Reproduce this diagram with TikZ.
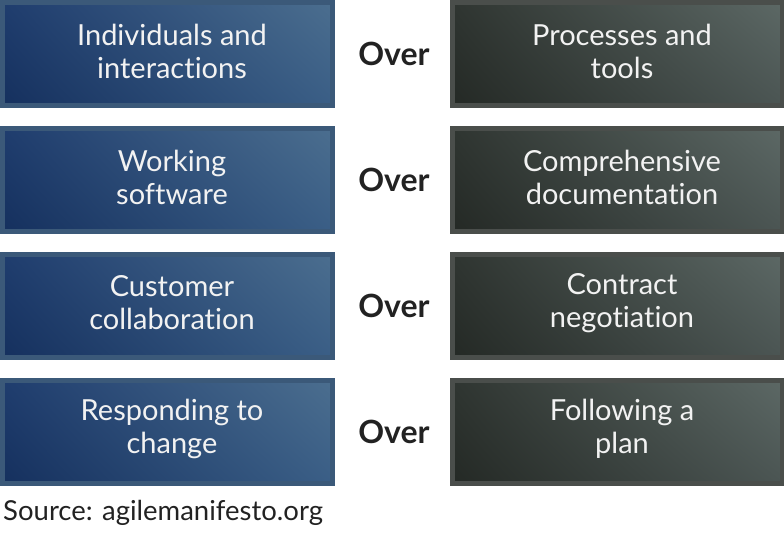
\documentclass[tikz,border=0pt]{standalone}
\usepackage{fontspec}
\setmainfont{Lato}[Ligatures = NoCommon]
\usetikzlibrary{positioning, shadings}

\definecolor{azulborda}{HTML}{3B5979}
\definecolor{azulescuro}{HTML}{15305E}
\definecolor{azulmeioa}{HTML}{1F3D6E}
\definecolor{azulmeiob}{HTML}{3A5E86}
\definecolor{azulclaro}{HTML}{4B6E8F}
\definecolor{cinzaborda}{HTML}{4A4E4B}
\definecolor{cinzaescuro}{HTML}{242925}
\definecolor{cinzameioa}{HTML}{2F3531}
\definecolor{cinzameiob}{HTML}{4B5553}
\definecolor{cinzaclaro}{HTML}{5C6865}
\definecolor{textoclaro}{HTML}{F2F2F2}
\definecolor{textoescuro}{HTML}{222222}

\begin{document}
\begin{tikzpicture}[x = 1pt, y = -1pt,
	caixa/.style = {line width = 5pt, minimum width = 330pt, minimum height = 103pt, inner sep = 0pt},
	valor/.style = {caixa, draw = azulborda, lower left = azulescuro, upper right = azulclaro, upper left = azulmeioa, lower right = azulmeiob},
	contra/.style = {caixa, draw = cinzaborda, lower left = cinzaescuro, upper right = cinzaclaro, upper left = cinzameioa, lower right = cinzameiob},
	rotulo/.style = {align = center, text = textoclaro, font = \fontsize{29}{33}\selectfont, xshift = 5pt, yshift = 3pt},
	sobre/.style = {text = textoescuro, font = \fontsize{32}{32}\selectfont\bfseries}
]

	\useasboundingbox (0, 0) rectangle (784, 545);

	% Valores (esquerda)
	\node[valor] (v1) at (167, 54) {};
	\node[valor, below = 18pt of v1] (v2) {};
	\node[valor, below = 18pt of v2] (v3) {};
	\node[valor, below = 18pt of v3] (v4) {};

	% Itens (direita)
	\node[contra, right = 115pt of v1] (c1) {};
	\node[contra, right = 115pt of v2] (c2) {};
	\node[contra, right = 115pt of v3] (c3) {};
	\node[contra, right = 115pt of v4] (c4) {};

	\node[rotulo] (tv1) at (v1) {Individuals and\\interactions};
	\node[rotulo] (tv2) at (v2) {Working\\software};
	\node[rotulo] (tv3) at (v3) {Customer\\collaboration};
	\node[rotulo] (tv4) at (v4) {Responding to\\change};
	\node[rotulo] (tc1) at (c1) {Processes and\\tools};
	\node[rotulo] (tc2) at (c2) {Comprehensive\\documentation};
	\node[rotulo] (tc3) at (c3) {Contract\\negotiation};
	\node[rotulo] (tc4) at (c4) {Following a\\plan};

	\node[sobre] (o1) at (394, 54) {Over};
	\node[sobre] (o2) at (394, 180) {Over};
	\node[sobre] (o3) at (394, 306) {Over};
	\node[sobre] (o4) at (394, 432) {Over};

	\node[anchor = base west, inner sep = 0pt, text = textoescuro, font = \fontsize{27.5}{27.5}\selectfont] (fonte) at (3, 520) {Source: agilemanifesto.org};

\end{tikzpicture}
\end{document}
